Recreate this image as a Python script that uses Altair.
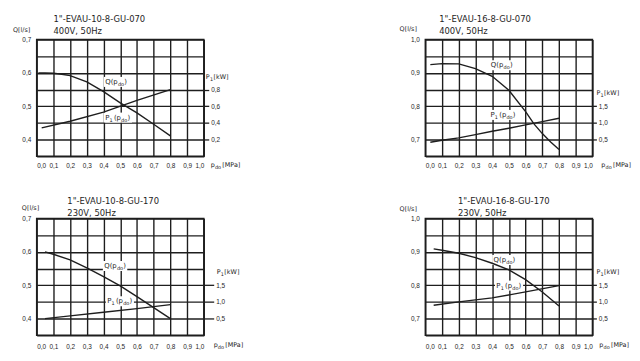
import altair as alt
import pandas as pd

FONT = "DejaVu Sans"
TICKFONT = "Liberation Sans"
INK = "#1e1e1e"

X_TICKS = [0.0, 0.1, 0.2, 0.3, 0.4, 0.5, 0.6, 0.7, 0.8, 0.9, 1.0]
Q_GRID_LO = [0.35, 0.4, 0.45, 0.5, 0.55, 0.6, 0.65, 0.7]
Q_GRID_HI = [0.65, 0.7, 0.75, 0.8, 0.85, 0.9, 0.95, 1.0]

# Panel 1: 1"-EVAU-10-8-GU-070, 400V
P1_QX = [0.01, 0.05, 0.1, 0.15, 0.2, 0.3, 0.4, 0.5, 0.6, 0.7, 0.8]
P1_Q = [0.600, 0.600, 0.599, 0.596, 0.592, 0.573, 0.544, 0.510, 0.480, 0.446, 0.411]
P1_PX = [0.03, 0.2, 0.4, 0.6, 0.8]
P1_P = [0.34, 0.42, 0.53, 0.67, 0.80]

# Panel 2: 1"-EVAU-16-8-GU-070, 400V
P2_QX = [0.03, 0.1, 0.2, 0.3, 0.4, 0.5, 0.6, 0.65, 0.7, 0.75, 0.8]
P2_Q = [0.925, 0.928, 0.927, 0.913, 0.890, 0.848, 0.784, 0.747, 0.718, 0.693, 0.670]
P2_PX = [0.03, 0.1, 0.2, 0.3, 0.4, 0.5, 0.6, 0.7, 0.8]
P2_P = [0.42, 0.48, 0.55, 0.65, 0.75, 0.84, 0.94, 1.04, 1.14]

# Panel 3: 1"-EVAU-10-8-GU-170, 230V
P3_QX = [0.05, 0.1, 0.2, 0.3, 0.4, 0.5, 0.6, 0.7, 0.8]
P3_Q = [0.600, 0.593, 0.576, 0.552, 0.526, 0.498, 0.466, 0.433, 0.400]
P3_PX = [0.05, 0.2, 0.4, 0.6, 0.8]
P3_P = [0.50, 0.58, 0.69, 0.80, 0.92]

# Panel 4: 1"-EVAU-16-8-GU-170, 230V
P4_QX = [0.05, 0.1, 0.2, 0.3, 0.4, 0.5, 0.6, 0.7, 0.8]
P4_Q = [0.909, 0.905, 0.896, 0.883, 0.866, 0.846, 0.817, 0.780, 0.738]
P4_PX = [0.05, 0.2, 0.4, 0.6, 0.8]
P4_P = [0.90, 1.00, 1.12, 1.30, 1.49]

TITLES = ['1"-EVAU-10-8-GU-070', '1"-EVAU-16-8-GU-070', '1"-EVAU-10-8-GU-170', '1"-EVAU-16-8-GU-170']
SUBTITLES = ["400V, 50Hz", "400V, 50Hz", "230V, 50Hz", "230V, 50Hz"]
P_TICKS = [[0.2, 0.4, 0.6, 0.8], [0.5, 1.0, 1.5], [0.5, 1.0, 1.5], [0.5, 1.0, 1.5]]

# curve label anchors (x, Q-units)
QLBL = [(0.41, 0.573), (0.392, 0.923), (0.404, 0.558), (0.408, 0.876)]
PLBL = [(0.41, 0.466), (0.39, 0.774), (0.422, 0.452), (0.425, 0.799)]

LABEL_EXPR = "(abs(datum.value*10 - round(datum.value*10)) < 0.001) ? replace(format(datum.value, '.1f'), '.', ',') : ''"

W, H = 169, 118


def pixel_text(s, x, y, size=7):
    return alt.Chart(pd.DataFrame({"a": [0]})).mark_text(
        align="left", baseline="middle", font=FONT, fontSize=size, color=INK
    ).encode(x=alt.value(x), y=alt.value(y), text=alt.value(s))


def pixel_pieces(pieces, x, y):
    out = []
    off = 0.0
    for s, sub, w in pieces:
        size = 5 if sub else 6.5
        out.append(pixel_text(s, x + off, y + (2 if sub else 0), size=size))
        off += w
    return out


Q_PIECES = [("Q(p", False, 12.9), ("do", True, 6.4), (")", False, 3)]
P_PIECES = [("P", False, 4.4), ("1", True, 4.4), ("(p", False, 7.3), ("do", True, 6.4), (")", False, 3)]


def panel(i, qx, q, px, p, qdom, pdom, qgrid, lay):
    xs = alt.Scale(domain=[0, 1], nice=False, zero=False)
    qs = alt.Scale(domain=qdom, nice=False, zero=False)
    ps = alt.Scale(domain=pdom, nice=False, zero=False)
    xaxis = alt.Axis(values=X_TICKS, grid=True, ticks=False, domain=False,
                     labelExpr=LABEL_EXPR, labelPadding=lay["xpad"], title=None)
    qaxis = alt.Axis(values=qgrid, grid=True, ticks=False, domain=False,
                     labelExpr=LABEL_EXPR, labelPadding=6, title=None)
    X = lambda f: alt.X(f, type="quantitative", scale=xs, axis=xaxis)
    Y = lambda f: alt.Y(f, type="quantitative", scale=qs, axis=qaxis)

    qdf = pd.DataFrame({"x": qx, "y": q})
    pdf = pd.DataFrame({"x": px, "p": p})

    boxes = pd.DataFrame({
        "x": [QLBL[i][0] - 0.008, PLBL[i][0] - 0.008],
        "x2": [QLBL[i][0] + 0.138, PLBL[i][0] + 0.16],
        "y": [QLBL[i][1] - 0.015, PLBL[i][1] - 0.015],
        "y2": [QLBL[i][1] + 0.015, PLBL[i][1] + 0.015],
    })
    box_layer = alt.Chart(boxes).mark_rect(color="white").encode(
        x=X("x"), x2="x2", y=Y("y"), y2="y2")
    qline = alt.Chart(qdf).mark_line(color=INK, strokeWidth=1.4).encode(x=X("x"), y=Y("y"))

    def data_pieces(pieces, lx, ly):
        df = pd.DataFrame({"x": [lx], "y": [ly]})
        out = []
        off = 0.0
        for s, sub, w in pieces:
            size = 5 if sub else 7
            out.append(alt.Chart(df).mark_text(
                align="left", baseline="middle", font=FONT, fontSize=size, color=INK,
                dx=off, dy=(2 if sub else 0)
            ).encode(x=X("x"), y=Y("y"), text=alt.value(s)))
            off += w
        return out

    texts = []
    texts += data_pieces(Q_PIECES, QLBL[i][0], QLBL[i][1])
    texts += data_pieces(P_PIECES, PLBL[i][0], PLBL[i][1])
    texts.append(pixel_text(TITLES[i], lay["tx"], lay["ty"], size=8.5))
    texts.append(pixel_text(SUBTITLES[i], lay["tx"], lay["ty"] + 12, size=8.5))
    texts.append(pixel_text("Q[l/s]", lay["qx"], lay["qy"], size=6.5))
    texts += pixel_pieces([("P", False, 4.2), ("1", True, 3.6), ("[kW]", False, 0)], lay["px"], lay["py"])
    texts += pixel_pieces([("p", False, 4.2), ("do", True, 7.5), ("[MPa]", False, 0)], lay["mx"], lay["my"])

    inner = alt.layer(box_layer, qline, *texts)
    pline = alt.Chart(pdf).mark_line(color=INK, strokeWidth=1.4).encode(
        x=X("x"),
        y=alt.Y("p:Q", scale=ps, axis=alt.Axis(
            orient="right", values=P_TICKS[i], grid=False, ticks=True,
            tickSize=lay["ts"], tickColor=INK, tickWidth=1.3, domain=False,
            labelExpr="replace(format(datum.value, '.1f'), '.', ',')",
            labelPadding=2, title=None)),
    )
    return alt.layer(inner, pline).resolve_scale(y="independent").properties(width=W, height=H)


LAY = [
    dict(tx=17, ty=-21, qx=-24, qy=-10, px=171, py=38, mx=176, my=127, xpad=6, ts=5),
    dict(tx=14, ty=-21, qx=-26, qy=-11, px=173, py=54, mx=178, my=127, xpad=6, ts=4),
    dict(tx=31, ty=-18, qx=-15, qy=-11, px=182, py=54, mx=179, my=128, xpad=8, ts=10),
    dict(tx=33, ty=-18, qx=-26, qy=-10, px=173, py=54, mx=176, my=128, xpad=8, ts=4),
]

c1 = panel(0, P1_QX, P1_Q, P1_PX, P1_P, [0.35, 0.7], [0, 1.4], Q_GRID_LO, LAY[0])
c2 = panel(1, P2_QX, P2_Q, P2_PX, P2_P, [0.65, 1.0], [0, 3.5], Q_GRID_HI, LAY[1])
c3 = panel(2, P3_QX, P3_Q, P3_PX, P3_P, [0.35, 0.7], [0, 3.5], Q_GRID_LO, LAY[2])
c4 = panel(3, P4_QX, P4_Q, P4_PX, P4_P, [0.65, 1.0], [0, 3.5], Q_GRID_HI, LAY[3])

chart = alt.concat(
    c1, c2, c3, c4, columns=2, spacing={"row": 63, "column": 224}, bounds="flush"
).properties(
    padding={"left": 4, "top": 4, "right": 0, "bottom": 0}, background="white"
).configure_view(
    stroke=INK, strokeWidth=1.5
).configure_axis(
    gridColor=INK, gridWidth=1.4, gridOpacity=1,
    labelFont=TICKFONT, labelFontSize=6.5, labelColor=INK
)

chart.save("out.html", embed_options={"renderer": "svg", "actions": False})
